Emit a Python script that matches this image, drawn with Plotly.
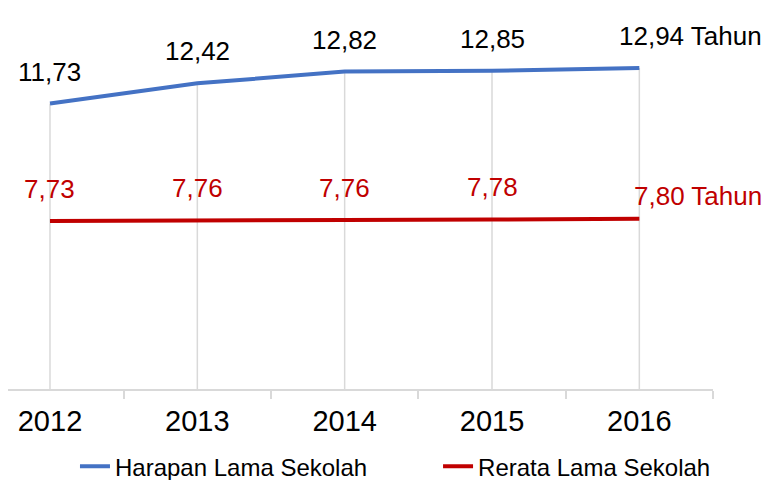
import plotly.graph_objects as go

years = ["2012", "2013", "2014", "2015", "2016"]
harapan = [11.73, 12.42, 12.82, 12.85, 12.94]
rerata = [7.73, 7.76, 7.76, 7.78, 7.80]
series_names = ["Harapan Lama Sekolah", "Rerata Lama Sekolah"]
unit = "Tahun"

BLUE = "#4472C4"
RED = "#C00000"
GRID = "#D9D9D9"
FONT = "Arial, Liberation Sans, sans-serif"
Y_MIN, Y_MAX = 2, 14

xs = list(range(len(years)))

def fmt(v):
    return f"{v:.2f}".replace(".", ",")

fig = go.Figure()

# drop lines from the highest series down to the axis
dx, dy = [], []
for i, v in enumerate(harapan):
    dx += [i, i, None]
    dy += [Y_MIN, v, None]
fig.add_trace(go.Scatter(x=dx, y=dy, mode="lines", line=dict(color=GRID, width=1.5),
                         showlegend=False, hoverinfo="skip"))

fig.add_trace(go.Scatter(x=xs, y=harapan, mode="lines", name=series_names[0],
                         line=dict(color=BLUE, width=4), legend="legend"))
fig.add_trace(go.Scatter(x=xs, y=rerata, mode="lines", name=series_names[1],
                         line=dict(color=RED, width=4), legend="legend2"))

annotations = []
last = len(years) - 1
for i, v in enumerate(harapan):
    if i == last:
        annotations.append(dict(x=i, y=v, text=f"{fmt(v)} {unit}", showarrow=False,
                                xanchor="left", yanchor="middle", xshift=-22, yshift=32,
                                font=dict(size=26, color="#000000", family=FONT)))
    else:
        annotations.append(dict(x=i, y=v, text=fmt(v), showarrow=False,
                                xanchor="center", yanchor="middle", yshift=32,
                                font=dict(size=26, color="#000000", family=FONT)))
for i, v in enumerate(rerata):
    if i == last:
        annotations.append(dict(x=i, y=v, text=f"{fmt(v)} {unit}", showarrow=False,
                                xanchor="left", yanchor="middle", xshift=-7, yshift=23,
                                font=dict(size=26, color=RED, family=FONT)))
    else:
        annotations.append(dict(x=i, y=v, text=fmt(v), showarrow=False,
                                xanchor="center", yanchor="middle", yshift=32,
                                font=dict(size=26, color=RED, family=FONT)))

legend_common = dict(orientation="h", xanchor="left", y=-0.157, yanchor="top",
                     font=dict(size=24, family=FONT, color="#000000"),
                     bgcolor="rgba(0,0,0,0)")

fig.update_layout(
    width=765, height=472,
    margin=dict(l=0, r=60, t=29, b=91, autoexpand=False),
    plot_bgcolor="white", paper_bgcolor="white",
    font=dict(family=FONT, color="#000000"),
    annotations=annotations,
    showlegend=True,
    legend=dict(x=0.095, **legend_common),
    legend2=dict(x=0.610, **legend_common),
    xaxis=dict(range=[-0.285, 4.5], tickmode="array", tickvals=xs, ticktext=years,
               showgrid=False, zeroline=False, showline=True, linecolor=GRID, linewidth=1.5,
               ticks="", tickfont=dict(size=29, family=FONT, color="#000000"),
               ticklabelstandoff=5,
               minor=dict(tickmode="array", tickvals=[i + 0.5 for i in xs], ticks="outside",
                          ticklen=8, tickcolor=GRID, tickwidth=1.5, showgrid=False)),
    yaxis=dict(range=[Y_MIN, Y_MAX], visible=False, showgrid=False, zeroline=False),
)

fig.write_html("out.html")
